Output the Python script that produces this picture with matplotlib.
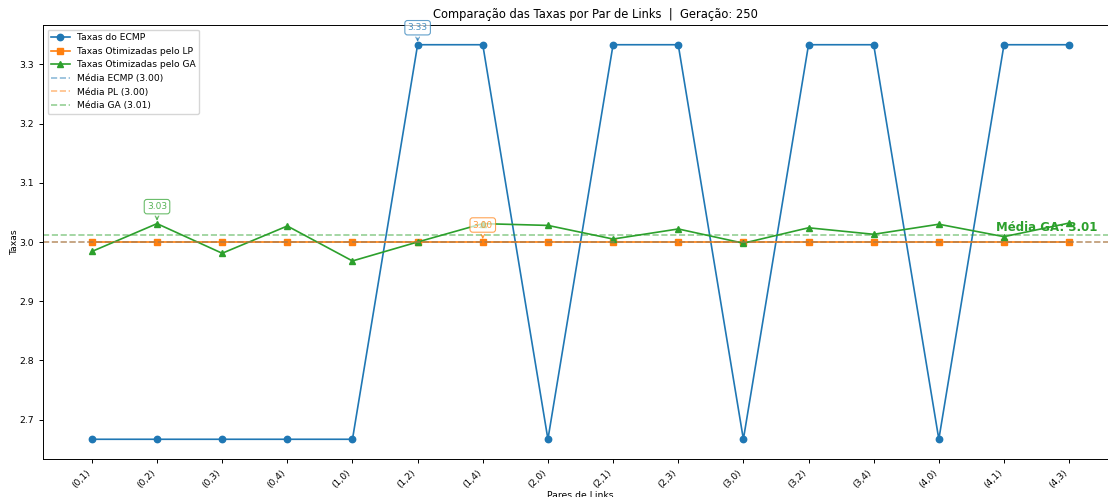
import numpy as np
import matplotlib
matplotlib.use("Agg")
import matplotlib.pyplot as plt

# pares de links avaliados
pares = ['(0,1)', '(0,2)', '(0,3)', '(0,4)', '(1,0)', '(1,2)', '(1,4)', '(2,0)',
         '(2,1)', '(2,3)', '(3,0)', '(3,2)', '(3,4)', '(4,0)', '(4,1)', '(4,3)']

taxas_ecmp = [2.667, 2.667, 2.667, 2.667, 2.667, 3.333, 3.333, 2.667,
              3.333, 3.333, 2.667, 3.333, 3.333, 2.667, 3.333, 3.333]
taxas_lp = [3.0] * 16
taxas_ga = [2.984, 3.031, 2.981, 3.027, 2.968, 3.000, 3.031, 3.028,
            3.005, 3.022, 2.998, 3.024, 3.013, 3.030, 3.009, 3.032]

geracao = 250

# pontos anotados em cada serie
idx_ecmp, idx_lp, idx_ga = 5, 6, 1

C_ECMP, C_LP, C_GA = '#1f77b4', '#ff7f0e', '#2ca02c'
LW, MS = 1.2, 4.6

fig = plt.figure(figsize=(11.08, 4.97), dpi=100)
ax = fig.add_axes([43 / 1108, 38 / 497, 1075 / 1108, 434 / 497])

x = np.arange(len(pares))
ax.plot(x, taxas_ecmp, marker='o', markersize=MS, lw=LW, color=C_ECMP, label='Taxas do ECMP')
ax.plot(x, taxas_lp, marker='s', markersize=MS, lw=LW, color=C_LP, label='Taxas Otimizadas pelo LP')
ax.plot(x, taxas_ga, marker='^', markersize=MS, lw=LW, color=C_GA, label='Taxas Otimizadas pelo GA')

m_ecmp = np.mean(taxas_ecmp)
m_lp = np.mean(taxas_lp)
m_ga = np.mean(taxas_ga)
ax.axhline(m_ecmp, color=C_ECMP, ls='--', lw=LW, alpha=0.5, label=f'Média ECMP ({m_ecmp:.2f})')
ax.axhline(m_lp, color=C_LP, ls='--', lw=LW, alpha=0.5, label=f'Média PL ({m_lp:.2f})')
ax.axhline(m_ga, color=C_GA, ls='--', lw=LW, alpha=0.5, label=f'Média GA ({m_ga:.2f})')


def anotar(i, vals, cor):
    ax.annotate(f'{vals[i]:.2f}', xy=(i, vals[i]), xytext=(0, 9), textcoords='offset points',
                ha='center', va='bottom', fontsize=6.5, color=cor, alpha=0.8,
                bbox=dict(boxstyle='round,pad=0.3', fc='white', ec=cor, alpha=0.7, lw=0.8),
                arrowprops=dict(arrowstyle='->', color=cor, alpha=0.7, lw=0.8))


anotar(idx_ecmp, taxas_ecmp, C_ECMP)
anotar(idx_lp, taxas_lp, C_LP)
anotar(idx_ga, taxas_ga, C_GA)

ax.text(14.65, m_ga + 0.002, f'Média GA: {m_ga:.2f}', color=C_GA, fontsize=8.5,
        fontweight='bold', ha='center', va='bottom')

ax.set_xticks(x)
ax.set_xticklabels(pares, rotation=45, ha='right', fontsize=6.7)
ax.tick_params(axis='y', labelsize=6.7)
ax.tick_params(length=2.8, width=0.7)
for s in ax.spines.values():
    s.set_linewidth(0.7)
ax.set_xlabel('Pares de Links', fontsize=6.7, labelpad=1)
ax.set_ylabel('Taxas', fontsize=6.7, labelpad=0.5)
ax.set_title(f'Comparação das Taxas por Par de Links  |  Geração: {geracao}', fontsize=8.3,
             x=(595 - 43) / 1075, pad=5)
ax.legend(loc='upper left', fontsize=6.6)

fig.savefig('out.png', dpi=100)
